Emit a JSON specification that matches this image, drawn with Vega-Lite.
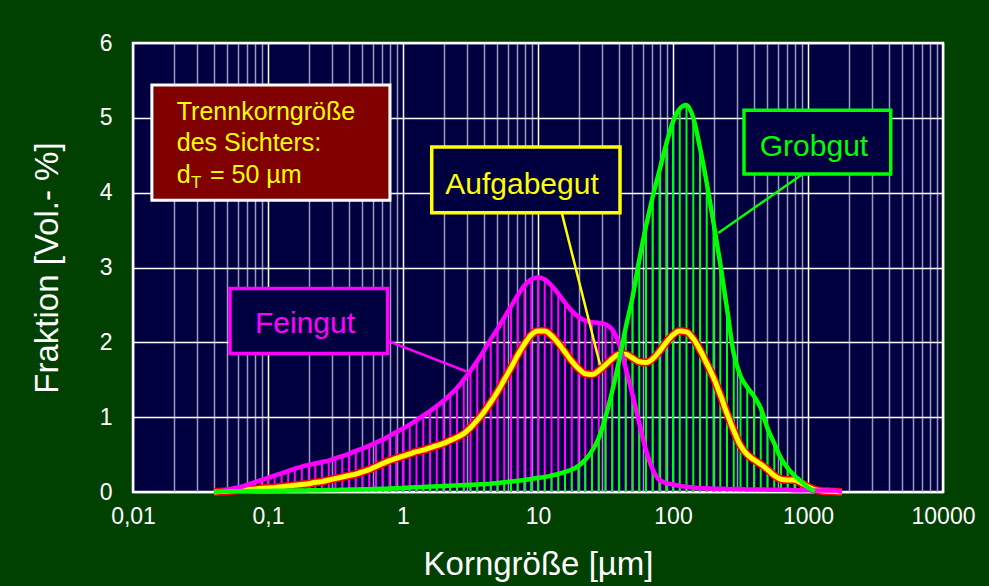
{
  "$schema": "https://vega.github.io/schema/vega-lite/v6.json",
  "width": 810,
  "height": 449,
  "autosize": "none",
  "padding": {"left": 133, "top": 43, "right": 46, "bottom": 94},
  "background": "#004000",
  "config": {
    "view": {"fill": "#000040", "stroke": "#ffffff", "strokeWidth": 2.5},
    "font": "Liberation Sans",
    "axis": {
      "labelColor": "#ffffff",
      "titleColor": "#ffffff",
      "labelFont": "Liberation Sans",
      "titleFont": "Liberation Sans",
      "titleFontWeight": "normal",
      "ticks": false,
      "domain": false,
      "labelFontSize": 23,
      "titleFontSize": 33,
      "gridWidth": 1.5
    }
  },
  "datasets": {
    "psd": [
      {"d": 0.0398, "F": 0, "A": 0, "G": 0},
      {"d": 0.0447, "F": 0.01, "A": 0.005, "G": 0.005},
      {"d": 0.0501, "F": 0.03, "A": 0.01, "G": 0.008},
      {"d": 0.0562, "F": 0.05, "A": 0.02, "G": 0.01},
      {"d": 0.0631, "F": 0.07, "A": 0.025, "G": 0.01},
      {"d": 0.0708, "F": 0.1, "A": 0.03, "G": 0.012},
      {"d": 0.0794, "F": 0.13, "A": 0.04, "G": 0.012},
      {"d": 0.0891, "F": 0.16, "A": 0.05, "G": 0.014},
      {"d": 0.1, "F": 0.19, "A": 0.055, "G": 0.015},
      {"d": 0.112, "F": 0.22, "A": 0.06, "G": 0.016},
      {"d": 0.126, "F": 0.25, "A": 0.07, "G": 0.018},
      {"d": 0.141, "F": 0.28, "A": 0.08, "G": 0.019},
      {"d": 0.158, "F": 0.31, "A": 0.09, "G": 0.02},
      {"d": 0.178, "F": 0.34, "A": 0.1, "G": 0.021},
      {"d": 0.2, "F": 0.36, "A": 0.11, "G": 0.022},
      {"d": 0.224, "F": 0.38, "A": 0.13, "G": 0.024},
      {"d": 0.251, "F": 0.4, "A": 0.14, "G": 0.025},
      {"d": 0.282, "F": 0.42, "A": 0.16, "G": 0.026},
      {"d": 0.316, "F": 0.45, "A": 0.18, "G": 0.028},
      {"d": 0.355, "F": 0.48, "A": 0.2, "G": 0.03},
      {"d": 0.398, "F": 0.51, "A": 0.22, "G": 0.032},
      {"d": 0.447, "F": 0.55, "A": 0.24, "G": 0.034},
      {"d": 0.501, "F": 0.58, "A": 0.27, "G": 0.036},
      {"d": 0.562, "F": 0.62, "A": 0.3, "G": 0.038},
      {"d": 0.631, "F": 0.66, "A": 0.34, "G": 0.04},
      {"d": 0.708, "F": 0.7, "A": 0.38, "G": 0.043},
      {"d": 0.794, "F": 0.75, "A": 0.42, "G": 0.046},
      {"d": 0.891, "F": 0.8, "A": 0.45, "G": 0.05},
      {"d": 1, "F": 0.85, "A": 0.48, "G": 0.055},
      {"d": 1.122, "F": 0.9, "A": 0.51, "G": 0.06},
      {"d": 1.259, "F": 0.96, "A": 0.54, "G": 0.064},
      {"d": 1.413, "F": 1.02, "A": 0.56, "G": 0.068},
      {"d": 1.585, "F": 1.08, "A": 0.59, "G": 0.072},
      {"d": 1.778, "F": 1.15, "A": 0.62, "G": 0.076},
      {"d": 1.995, "F": 1.22, "A": 0.65, "G": 0.08},
      {"d": 2.239, "F": 1.3, "A": 0.69, "G": 0.084},
      {"d": 2.512, "F": 1.39, "A": 0.73, "G": 0.088},
      {"d": 2.818, "F": 1.5, "A": 0.78, "G": 0.092},
      {"d": 3.162, "F": 1.62, "A": 0.86, "G": 0.096},
      {"d": 3.548, "F": 1.75, "A": 0.96, "G": 0.1},
      {"d": 3.981, "F": 1.89, "A": 1.07, "G": 0.105},
      {"d": 4.467, "F": 2.04, "A": 1.2, "G": 0.11},
      {"d": 5.012, "F": 2.18, "A": 1.34, "G": 0.12},
      {"d": 5.623, "F": 2.33, "A": 1.5, "G": 0.13},
      {"d": 6.31, "F": 2.48, "A": 1.66, "G": 0.14},
      {"d": 7.079, "F": 2.63, "A": 1.83, "G": 0.15},
      {"d": 7.943, "F": 2.76, "A": 1.98, "G": 0.16},
      {"d": 8.913, "F": 2.84, "A": 2.1, "G": 0.175},
      {"d": 10, "F": 2.87, "A": 2.15, "G": 0.19},
      {"d": 11.22, "F": 2.84, "A": 2.15, "G": 0.2},
      {"d": 12.59, "F": 2.76, "A": 2.09, "G": 0.22},
      {"d": 14.13, "F": 2.65, "A": 1.99, "G": 0.24},
      {"d": 15.85, "F": 2.53, "A": 1.87, "G": 0.27},
      {"d": 17.78, "F": 2.42, "A": 1.75, "G": 0.3},
      {"d": 19.95, "F": 2.34, "A": 1.65, "G": 0.35},
      {"d": 22.39, "F": 2.29, "A": 1.58, "G": 0.43},
      {"d": 25.12, "F": 2.27, "A": 1.57, "G": 0.55},
      {"d": 28.18, "F": 2.26, "A": 1.62, "G": 0.72},
      {"d": 31.62, "F": 2.24, "A": 1.7, "G": 1.0},
      {"d": 35.48, "F": 2.17, "A": 1.78, "G": 1.35},
      {"d": 39.81, "F": 1.98, "A": 1.84, "G": 1.75},
      {"d": 44.67, "F": 1.65, "A": 1.84, "G": 2.2},
      {"d": 50.12, "F": 1.3, "A": 1.79, "G": 2.6},
      {"d": 56.23, "F": 0.92, "A": 1.74, "G": 3.1},
      {"d": 63.1, "F": 0.56, "A": 1.73, "G": 3.55},
      {"d": 70.79, "F": 0.3, "A": 1.78, "G": 3.95},
      {"d": 79.43, "F": 0.16, "A": 1.88, "G": 4.3},
      {"d": 89.13, "F": 0.12, "A": 2.0, "G": 4.65},
      {"d": 100, "F": 0.1, "A": 2.1, "G": 4.95},
      {"d": 112.2, "F": 0.08, "A": 2.15, "G": 5.12},
      {"d": 125.9, "F": 0.07, "A": 2.14, "G": 5.17},
      {"d": 141.3, "F": 0.06, "A": 2.05, "G": 5.0},
      {"d": 158.5, "F": 0.05, "A": 1.9, "G": 4.6},
      {"d": 177.8, "F": 0.05, "A": 1.72, "G": 4.13},
      {"d": 199.5, "F": 0.045, "A": 1.53, "G": 3.6},
      {"d": 223.9, "F": 0.045, "A": 1.3, "G": 3.05},
      {"d": 251.2, "F": 0.04, "A": 1.05, "G": 2.45},
      {"d": 281.8, "F": 0.04, "A": 0.82, "G": 1.85},
      {"d": 316.2, "F": 0.04, "A": 0.62, "G": 1.55},
      {"d": 354.8, "F": 0.035, "A": 0.5, "G": 1.4},
      {"d": 398.1, "F": 0.035, "A": 0.43, "G": 1.28},
      {"d": 446.7, "F": 0.035, "A": 0.37, "G": 1.12},
      {"d": 501.2, "F": 0.03, "A": 0.3, "G": 0.85},
      {"d": 562.3, "F": 0.03, "A": 0.22, "G": 0.65},
      {"d": 631, "F": 0.03, "A": 0.17, "G": 0.45},
      {"d": 707.9, "F": 0.03, "A": 0.16, "G": 0.32},
      {"d": 794.3, "F": 0.025, "A": 0.16, "G": 0.22},
      {"d": 891.3, "F": 0.025, "A": 0.12, "G": 0.14},
      {"d": 1000, "F": 0.025, "A": 0.07, "G": 0.06},
      {"d": 1122, "F": 0.02, "A": 0.03, "G": 0.01},
      {"d": 1259, "F": 0.02, "A": 0.015, "G": null},
      {"d": 1413, "F": 0.02, "A": 0.01, "G": null},
      {"d": 1585, "F": 0.02, "A": 0.005, "G": null},
      {"d": 1778, "F": 0, "A": 0, "G": null}
    ]
  },
  "layer": [
    {
      "data": {"name": "psd"},
      "mark": {"type": "rule", "color": "#ff00ff", "strokeWidth": 2},
      "encoding": {
        "x": {
          "field": "d",
          "type": "quantitative",
          "title": "Korngröße [µm]",
          "scale": {"type": "log", "domain": [0.01, 10000]},
          "axis": {
            "values": [0.01, 0.02, 0.03, 0.04, 0.05, 0.06, 0.07, 0.08, 0.09,
                       0.1, 0.2, 0.3, 0.4, 0.5, 0.6, 0.7, 0.8, 0.9,
                       1, 2, 3, 4, 5, 6, 7, 8, 9,
                       10, 20, 30, 40, 50, 60, 70, 80, 90,
                       100, 200, 300, 400, 500, 600, 700, 800, 900,
                       1000, 2000, 3000, 4000, 5000, 6000, 7000, 8000, 9000, 10000],
            "labelExpr": "abs(log(datum.value) / LN10 - round(log(datum.value) / LN10)) < 0.001 ? replace(datum.label, '.', ',') : ''",
            "gridColor": {
              "condition": {"test": "abs(log(datum.value) / LN10 - round(log(datum.value) / LN10)) < 0.001", "value": "#ffffff"},
              "value": "#9a9ac0"
            },
            "format": "~g",
            "labelOverlap": false,
            "labelFlush": false,
            "labelPadding": 13,
            "titlePadding": 20
          }
        },
        "y": {
          "field": "F",
          "type": "quantitative",
          "title": "Fraktion [Vol.- %]",
          "scale": {"domain": [0, 6], "nice": false},
          "axis": {
            "values": [0, 1, 2, 3, 4, 5, 6],
            "format": "d",
            "gridColor": "#ffffff",
            "labelPadding": 21,
            "titlePadding": 35
          }
        },
        "y2": {"datum": 0}
      }
    },
    {
      "data": {"name": "psd"},
      "mark": {"type": "rule", "color": "#00ff00", "strokeWidth": 2},
      "encoding": {
        "x": {"field": "d", "type": "quantitative", "title": "Korngröße [µm]"},
        "y": {"field": "G", "type": "quantitative", "title": "Fraktion [Vol.- %]"},
        "y2": {"datum": 0}
      }
    },
    {
      "data": {"name": "psd"},
      "mark": {"type": "line", "color": "#ff0000", "strokeWidth": 8, "interpolate": "monotone"},
      "encoding": {
        "x": {"field": "d", "type": "quantitative", "title": "Korngröße [µm]"},
        "y": {"field": "A", "type": "quantitative", "title": "Fraktion [Vol.- %]"}
      }
    },
    {
      "data": {"name": "psd"},
      "mark": {"type": "line", "color": "#ffff00", "strokeWidth": 5, "interpolate": "monotone"},
      "encoding": {
        "x": {"field": "d", "type": "quantitative", "title": "Korngröße [µm]"},
        "y": {"field": "A", "type": "quantitative", "title": "Fraktion [Vol.- %]"}
      }
    },
    {
      "data": {"name": "psd"},
      "mark": {"type": "line", "color": "#ff00ff", "strokeWidth": 4.5, "interpolate": "monotone"},
      "encoding": {
        "x": {"field": "d", "type": "quantitative", "title": "Korngröße [µm]"},
        "y": {"field": "F", "type": "quantitative", "title": "Fraktion [Vol.- %]"}
      }
    },
    {
      "data": {"name": "psd"},
      "mark": {"type": "line", "color": "#00ff00", "strokeWidth": 4.5, "interpolate": "monotone"},
      "encoding": {
        "x": {"field": "d", "type": "quantitative", "title": "Korngröße [µm]"},
        "y": {"field": "G", "type": "quantitative", "title": "Fraktion [Vol.- %]"}
      }
    },
    {
      "data": {"values": [
        {"s": "Feingut", "x": 0.77, "y": 2.02, "x2": 2.96, "y2": 1.61},
        {"s": "Aufgabegut", "x": 15.0, "y": 3.73, "x2": 28.8, "y2": 1.7},
        {"s": "Grobgut", "x": 898, "y": 4.24, "x2": 216.6, "y2": 3.46}
      ]},
      "mark": {"type": "rule", "strokeWidth": 2.5},
      "encoding": {
        "x": {"field": "x", "type": "quantitative", "title": "Korngröße [µm]"},
        "y": {"field": "y", "type": "quantitative", "title": "Fraktion [Vol.- %]"},
        "x2": {"field": "x2"},
        "y2": {"field": "y2"},
        "color": {
          "field": "s", "type": "nominal", "legend": null,
          "scale": {"domain": ["Feingut", "Aufgabegut", "Grobgut"], "range": ["#ff00ff", "#ffff00", "#00ff00"]}
        }
      }
    },
    {
      "data": {"values": [
        {"s": "Feingut", "x": 0.0523, "x2": 0.77, "y": 2.72, "y2": 1.85},
        {"s": "Aufgabegut", "x": 1.632, "x2": 40.5, "y": 4.61, "y2": 3.73},
        {"s": "Grobgut", "x": 335.7, "x2": 4100, "y": 5.1, "y2": 4.25}
      ]},
      "mark": {"type": "rect", "fill": "#000040", "strokeWidth": 3.5},
      "encoding": {
        "x": {"field": "x", "type": "quantitative", "title": "Korngröße [µm]"},
        "x2": {"field": "x2"},
        "y": {"field": "y", "type": "quantitative", "title": "Fraktion [Vol.- %]"},
        "y2": {"field": "y2"},
        "stroke": {
          "field": "s", "type": "nominal", "legend": null,
          "scale": {"domain": ["Feingut", "Aufgabegut", "Grobgut"], "range": ["#ff00ff", "#ffff00", "#00ff00"]}
        }
      }
    },
    {
      "data": {"values": [
        {"s": "Feingut", "x": 0.188, "y": 2.12},
        {"s": "Aufgabegut", "x": 7.61, "y": 3.98},
        {"s": "Grobgut", "x": 1107, "y": 4.49}
      ]},
      "mark": {"type": "text", "fontSize": 30, "align": "center", "baseline": "alphabetic", "font": "Liberation Sans"},
      "encoding": {
        "x": {"field": "x", "type": "quantitative", "title": "Korngröße [µm]"},
        "y": {"field": "y", "type": "quantitative", "title": "Fraktion [Vol.- %]"},
        "text": {"field": "s"},
        "color": {
          "field": "s", "type": "nominal", "legend": null,
          "scale": {"domain": ["Feingut", "Aufgabegut", "Grobgut"], "range": ["#ff00ff", "#ffff00", "#00ff00"]}
        }
      }
    },
    {
      "data": {"values": [{"x": 0.0138, "x2": 0.8, "y": 5.44, "y2": 3.9}]},
      "mark": {"type": "rect", "fill": "#800000", "stroke": "#ffffff", "strokeWidth": 3},
      "encoding": {
        "x": {"field": "x", "type": "quantitative", "title": "Korngröße [µm]"},
        "x2": {"field": "x2"},
        "y": {"field": "y", "type": "quantitative", "title": "Fraktion [Vol.- %]"},
        "y2": {"field": "y2"}
      }
    },
    {
      "data": {"values": [
        {"t": "Trennkorngröße", "x": 0.0211, "y": 4.97},
        {"t": "des Sichters:", "x": 0.0211, "y": 4.56},
        {"t": "d", "x": 0.0211, "y": 4.13},
        {"t": "= 50 µm", "x": 0.0372, "y": 4.13}
      ]},
      "mark": {"type": "text", "fontSize": 25, "align": "left", "baseline": "alphabetic", "color": "#ffff00", "font": "Liberation Sans"},
      "encoding": {
        "x": {"field": "x", "type": "quantitative", "title": "Korngröße [µm]"},
        "y": {"field": "y", "type": "quantitative", "title": "Fraktion [Vol.- %]"},
        "text": {"field": "t"}
      }
    },
    {
      "data": {"values": [{"t": "T", "x": 0.0269, "y": 4.06}]},
      "mark": {"type": "text", "fontSize": 17, "align": "left", "baseline": "alphabetic", "color": "#ffff00", "font": "Liberation Sans"},
      "encoding": {
        "x": {"field": "x", "type": "quantitative", "title": "Korngröße [µm]"},
        "y": {"field": "y", "type": "quantitative", "title": "Fraktion [Vol.- %]"},
        "text": {"field": "t"}
      }
    }
  ]
}
